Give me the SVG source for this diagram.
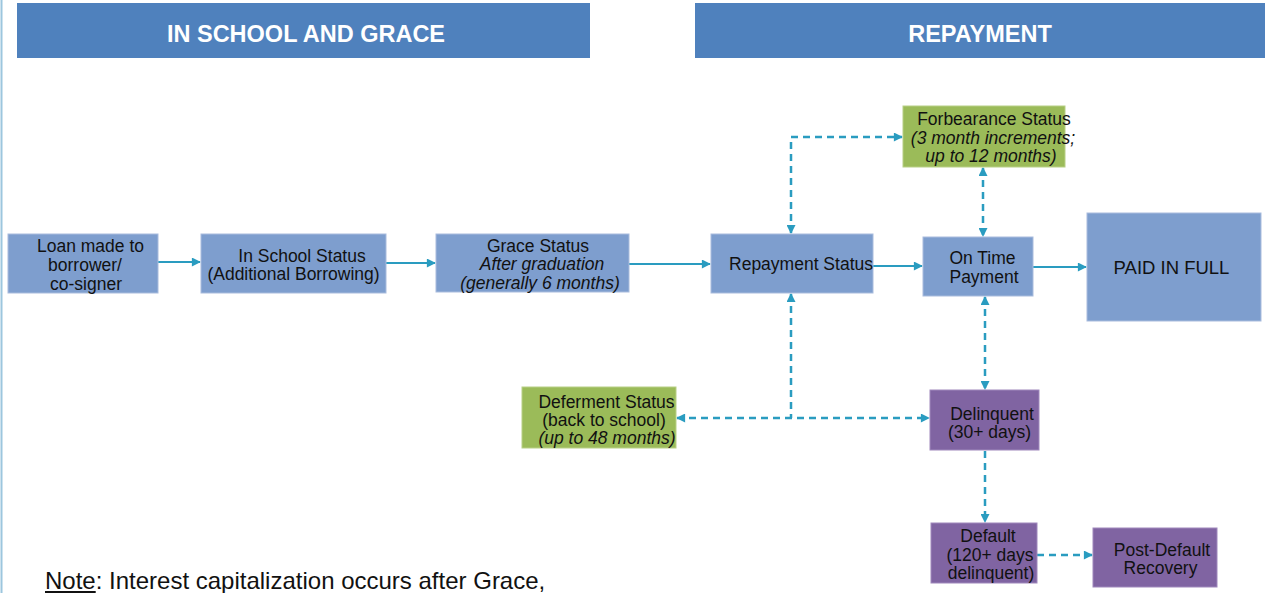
<svg xmlns="http://www.w3.org/2000/svg" width="1265" height="593" viewBox="0 0 1265 593">
<defs>
<style>
.hdr{fill:#4F81BD}
.hdrt{font-family:"Liberation Sans",Arial,sans-serif;font-weight:bold;font-size:23.5px;fill:#fff;text-anchor:middle}
.blue{fill:#7E9ECE;stroke:#A9BCDD;stroke-width:1}
.green{fill:#9BBB59;stroke:#B8CF86;stroke-width:1}
.purple{fill:#8064A2;stroke:#9F88BC;stroke-width:1}
.t{font-family:"Liberation Sans",Arial,sans-serif;font-size:17.5px;fill:#111;text-anchor:middle}
.i{font-style:italic}
.solid{stroke:#2A9CC0;stroke-width:2;fill:none}
.dash{stroke:#2A9CC0;stroke-width:2.5;fill:none;stroke-dasharray:7 5}
</style>
<marker id="ah" viewBox="0 0 10 10" refX="9" refY="5" markerWidth="10" markerHeight="9" markerUnits="userSpaceOnUse" orient="auto-start-reverse">
<path d="M0,0 L10,5 L0,10 z" fill="#2A9CC0"/>
</marker>
</defs>
<rect width="1265" height="593" fill="#fff"/>
<line x1="1.5" y1="0" x2="1.5" y2="593" stroke="#9CC6DE" stroke-width="2"/>

<g id="header-school">
<rect class="hdr" x="17" y="3" width="573" height="55"/>
<text class="hdrt" x="306" y="41.5">IN SCHOOL AND GRACE</text>
</g>
<g id="header-repayment">
<rect class="hdr" x="695" y="3" width="570" height="55"/>
<text class="hdrt" x="980" y="41.5">REPAYMENT</text>
</g>

<g id="connectors">
<line class="solid" x1="158" y1="262" x2="200" y2="262" marker-end="url(#ah)"/>
<line class="solid" x1="386" y1="263" x2="435" y2="263" stroke-width="2.6" marker-end="url(#ah)"/>
<line class="solid" x1="629" y1="264" x2="710" y2="264" marker-end="url(#ah)"/>
<line class="solid" x1="873" y1="266" x2="922" y2="266" marker-end="url(#ah)"/>
<line class="solid" x1="1033" y1="267" x2="1086" y2="267" marker-end="url(#ah)"/>
<polyline class="dash" points="791,233 791,137 902,137" marker-start="url(#ah)" marker-end="url(#ah)"/>
<line class="dash" x1="983" y1="168" x2="983" y2="236" marker-start="url(#ah)" marker-end="url(#ah)"/>
<line class="dash" x1="985" y1="297" x2="985" y2="389" marker-start="url(#ah)" marker-end="url(#ah)"/>
<line class="dash" x1="791" y1="294" x2="791" y2="418" marker-start="url(#ah)"/>
<line class="dash" x1="677" y1="418" x2="929" y2="418" marker-start="url(#ah)" marker-end="url(#ah)"/>
<line class="dash" x1="985" y1="451" x2="985" y2="522" marker-end="url(#ah)"/>
<line class="dash" x1="1037" y1="555" x2="1092" y2="555" marker-end="url(#ah)"/>
</g>

<g id="loan">
<rect class="blue" x="8" y="234" width="150" height="59"/>
<text class="t" x="90.5" y="252">Loan made to</text>
<text class="t" x="85" y="271">borrower/</text>
<text class="t" x="86" y="290">co-signer</text>
</g>
<g id="in-school">
<rect class="blue" x="201" y="234" width="185" height="59"/>
<text class="t" x="302" y="262">In School Status</text>
<text class="t" x="293.5" y="280">(Additional Borrowing)</text>
</g>
<g id="grace">
<rect class="blue" x="436" y="234" width="193" height="58"/>
<text class="t" x="538" y="252">Grace Status</text>
<text class="t i" x="542" y="270">After graduation</text>
<text class="t i" x="540" y="289">(generally 6 months)</text>
</g>
<g id="repayment-status">
<rect class="blue" x="711" y="234" width="162" height="59"/>
<text class="t" x="801" y="270">Repayment Status</text>
</g>
<g id="forbearance">
<rect class="green" x="903" y="106" width="162" height="61"/>
<text class="t" x="994" y="125">Forbearance Status</text>
<text class="t i" x="993" y="144">(3 month increments;</text>
<text class="t i" x="991" y="162">up to 12 months)</text>
</g>
<g id="on-time">
<rect class="blue" x="923" y="237" width="110" height="59"/>
<text class="t" x="982.5" y="264">On Time</text>
<text class="t" x="984" y="283">Payment</text>
</g>
<g id="paid-in-full">
<rect class="blue" x="1087" y="213" width="174" height="108"/>
<text class="t" x="1171.5" y="274" style="font-size:18.5px">PAID IN FULL</text>
</g>
<g id="deferment">
<rect class="green" x="522" y="387" width="154" height="61"/>
<text class="t" x="606.5" y="408">Deferment Status</text>
<text class="t" x="604" y="426">(back to school)</text>
<text class="t i" x="607" y="444">(up to 48 months)</text>
</g>
<g id="delinquent">
<rect class="purple" x="930" y="390" width="109" height="60"/>
<text class="t" x="992" y="420">Delinquent</text>
<text class="t" x="989.5" y="438">(30+ days)</text>
</g>
<g id="default">
<rect class="purple" x="931" y="523" width="106" height="60"/>
<text class="t" x="988" y="542">Default</text>
<text class="t" x="990" y="561">(120+ days</text>
<text class="t" x="991" y="579">delinquent)</text>
</g>
<g id="post-default">
<rect class="purple" x="1093" y="528" width="124" height="59"/>
<text class="t" x="1162" y="556">Post-Default</text>
<text class="t" x="1160.5" y="574">Recovery</text>
</g>

<text id="note" x="45" y="589" style="font-family:'Liberation Sans',Arial,sans-serif;font-size:24px;fill:#111"><tspan text-decoration="underline">Note</tspan>: Interest capitalization occurs after Grace,</text>
</svg>
